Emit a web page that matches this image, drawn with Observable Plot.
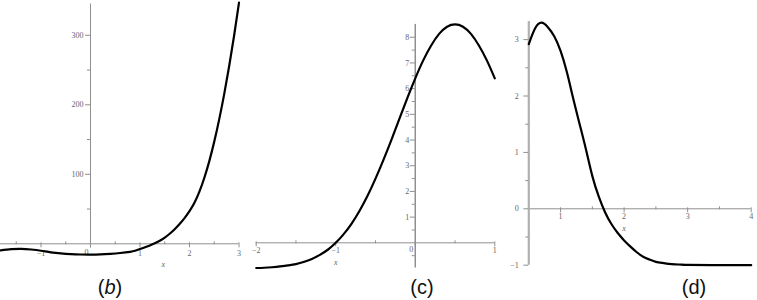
<!DOCTYPE html>
<html>
<head>
<meta charset="utf-8">
<script src="https://cdn.jsdelivr.net/npm/d3@7"></script>
<script src="https://cdn.jsdelivr.net/npm/@observablehq/plot@0.6"></script>
<style>
  html, body { margin: 0; padding: 0; background: #fff; }
  #wrap { position: relative; width: 757px; height: 300px; overflow: hidden; }
  .cap { position: absolute; top: 276.5px; font: 20px/20px "Liberation Sans", Arial, sans-serif; color: #111; transform: translateX(-50%); white-space: nowrap; }
</style>
</head>
<body>
<div id="wrap"></div>
<script>
// ---- Panel (b) data ----
const bX = [-1.82, -1.6, -1.4, -1.2, -1.0, -0.8, -0.6, -0.4, -0.2, 0, 0.2, 0.4, 0.6, 0.8, 0.9, 1.0, 1.1, 1.2, 1.3, 1.4, 1.5, 1.6, 1.7, 1.8, 1.9, 2.0, 2.1, 2.2, 2.3, 2.4, 2.5, 2.6, 2.7, 2.8, 2.9, 3.0];
const bY = [-9.6, -7.8, -7.2, -8.2, -10, -12.3, -13.9, -14.9, -15.4, -15.5, -15.2, -14.4, -13.2, -11.5, -10, -7.6, -5, -2.3, 0.8, 4.5, 9, 14.5, 21, 28.5, 37, 47, 59, 75, 95, 119, 147, 179, 215, 255, 299, 347];
const bXMajor = [-1, 0, 1, 2, 3];
const bXMinor = [-1.5, -0.5, 0.5, 1.5, 2.5];
const bXLabels = [-1, 1, 2, 3];
const bYMajor = [100, 200, 300];
const bYMinor = [50, 150, 250];

// ---- Panel (c) data ----
const cX = [-2, -1.9, -1.8, -1.7, -1.6, -1.5, -1.4, -1.3, -1.2, -1.1, -1.0, -0.9, -0.8, -0.7, -0.6, -0.5, -0.4, -0.3, -0.2, -0.1, 0, 0.1, 0.2, 0.3, 0.4, 0.5, 0.6, 0.7, 0.8, 0.9, 1.0];
const cY = [-0.98, -0.97, -0.95, -0.92, -0.88, -0.83, -0.74, -0.63, -0.47, -0.27, 0.0, 0.34, 0.75, 1.25, 1.83, 2.5, 3.23, 4.01, 4.82, 5.63, 6.4, 7.1, 7.68, 8.13, 8.41, 8.5, 8.41, 8.13, 7.68, 7.1, 6.4];
const cXMajor = [-2, -1, 0, 1];
const cXMinor = [-1.5, -0.5, 0.5];
const cXLabels = [-2, -1, 1];
const cYMajor = [1, 2, 3, 4, 5, 6, 7, 8];
const cYMinor = [-0.5, 0.5, 1.5, 2.5, 3.5, 4.5, 5.5, 6.5, 7.5];

// ---- Panel (d) data ----
const dX = [0.5, 0.6, 0.7, 0.8, 0.9, 1.0, 1.1, 1.2, 1.3, 1.4, 1.5, 1.6, 1.7, 1.8, 1.9, 2.0, 2.1, 2.2, 2.3, 2.4, 2.5, 2.6, 2.7, 2.8, 2.9, 3.0, 3.5, 4.0];
const dY = [2.92, 3.20, 3.30, 3.22, 3.06, 2.80, 2.42, 1.95, 1.50, 1.05, 0.58, 0.22, -0.06, -0.27, -0.43, -0.56, -0.67, -0.77, -0.85, -0.90, -0.94, -0.96, -0.975, -0.985, -0.99, -0.995, -1.0, -1.0];
const dXMajor = [1, 2, 3, 4];
const dXMinor = [1.5, 2.5, 3.5];
const dXLabels = [1, 2, 3, 4];
const dYMajor = [-1, 0, 1, 2, 3];
const dYMinor = [-0.5, 0.5, 1.5, 2.5];

const captions = [
  {html: "(<i>b</i>)", left: 110},
  {html: "(c)", left: 422},
  {html: "(d)", left: 694}
];

function panel(cfg) {
  const pts = cfg.xs.map((x, i) => ({x, y: cfg.ys[i]}));
  const axisColor = "#8f8f8f";
  const labelColor = "#666";
  const marks = [
    Plot.ruleY([0], {stroke: axisColor, strokeWidth: 1}),
    Plot.ruleX([cfg.yAxisAt], {y1: cfg.yAxisFrom, y2: cfg.yAxisTo, stroke: cfg.yAxisColor || axisColor, strokeWidth: cfg.yAxisWidth || 1}),
    Plot.ruleX(cfg.xMajor, {y1: 0, y2: 0, insetTop: -1, insetBottom: -4, stroke: axisColor}),
    Plot.ruleX(cfg.xMinor, {y1: 0, y2: 0, insetTop: -2, insetBottom: -1, stroke: axisColor}),
    Plot.ruleY(cfg.yMajor, {x1: cfg.yAxisAt, x2: cfg.yAxisAt, insetLeft: -5, insetRight: 0, stroke: axisColor}),
    Plot.ruleY(cfg.yMinor, {x1: cfg.yAxisAt, x2: cfg.yAxisAt, insetLeft: -3, insetRight: 0, stroke: axisColor}),
    Plot.text(cfg.xLabels, {x: d => d, y: 0, text: d => String(d).replace("-", "\u2212"), dy: cfg.xLabelDy, fill: labelColor, fontSize: 8}),
    Plot.text(cfg.yMajor, {x: cfg.yAxisAt, y: d => d, text: d => String(d).replace("-", "\u2212"), dx: cfg.yLabelDx, textAnchor: "end", fill: labelColor, fontSize: 8}),
    Plot.text(["x"], {x: cfg.xNameAt, y: 0, dy: cfg.xNameDy, fontStyle: "italic", fill: labelColor, fontSize: 8}),
    Plot.line(pts, {x: "x", y: "y", curve: "natural", stroke: "#000", strokeWidth: 2.2})
  ];
  if (cfg.originLabel) {
    marks.splice(8, 0, Plot.text([0], {x: 0, y: 0, text: d => String(d), dx: cfg.originDx, dy: cfg.originDy, textAnchor: "end", fill: labelColor, fontSize: 8}));
  }
  return Plot.plot({
    width: cfg.width,
    height: 300,
    marginLeft: cfg.mL, marginRight: cfg.mR, marginTop: cfg.mT, marginBottom: cfg.mB,
    x: {domain: cfg.xDomain, axis: null},
    y: {domain: cfg.yDomain, axis: null},
    style: {background: "transparent", overflow: "visible", fontFamily: "'Liberation Serif', 'DejaVu Serif', serif"},
    marks
  });
}

const wrap = document.getElementById("wrap");
const panels = [
  {left: 0, width: 250, mL: 0, mR: 11.5, mT: 3.5, mB: 300 - 257.2,
   xDomain: [-1.818, 3], yDomain: [-20, 345],
   xs: bX, ys: bY, xMajor: bXMajor, xMinor: bXMinor, xLabels: bXLabels, yMajor: bYMajor, yMinor: bYMinor,
   yAxisAt: 0, yAxisFrom: -6, yAxisTo: 345, xLabelDy: 10, yLabelDx: -7, xNameAt: 1.47, xNameDy: 21,
   originLabel: true, originDx: -2, originDy: 8.5},
  {left: 245, width: 260, mL: 10.7, mR: 10.7, mT: 23.9, mB: 300 - 267.5,
   xDomain: [-2, 1], yDomain: [-0.98, 8.5],
   xs: cX, ys: cY, xMajor: cXMajor, xMinor: cXMinor, xLabels: cXLabels, yMajor: cYMajor, yMinor: cYMinor,
   yAxisAt: 0, yAxisFrom: -0.98, yAxisTo: 8.5, xLabelDy: 8, yLabelDx: -6, xNameAt: -1.0, xNameDy: 19.5,
   yAxisWidth: 1.5, originLabel: true, originDx: -2, originDy: 7},
  {left: 500, width: 257, mL: 28.3, mR: 6.3, mT: 22.2, mB: 300 - 264.7,
   xDomain: [0.5, 4], yDomain: [-1, 3.3],
   xs: dX, ys: dY, xMajor: dXMajor, xMinor: dXMinor, xLabels: dXLabels, yMajor: dYMajor, yMinor: dYMinor,
   yAxisAt: 0.5, yAxisFrom: -1, yAxisTo: 3.32, xLabelDy: 8, yLabelDx: -10, xNameAt: 2.0, xNameDy: 19.5,
   yAxisWidth: 2.2, yAxisColor: "#b0b0b0", originLabel: false}
];
panels.forEach(p => {
  const svg = panel(p);
  svg.style.position = "absolute";
  svg.style.left = p.left + "px";
  svg.style.top = "0px";
  wrap.appendChild(svg);
});
captions.forEach(c => {
  const d = document.createElement("div");
  d.className = "cap";
  d.style.left = c.left + "px";
  d.innerHTML = c.html;
  wrap.appendChild(d);
});
</script>
</body>
</html>
